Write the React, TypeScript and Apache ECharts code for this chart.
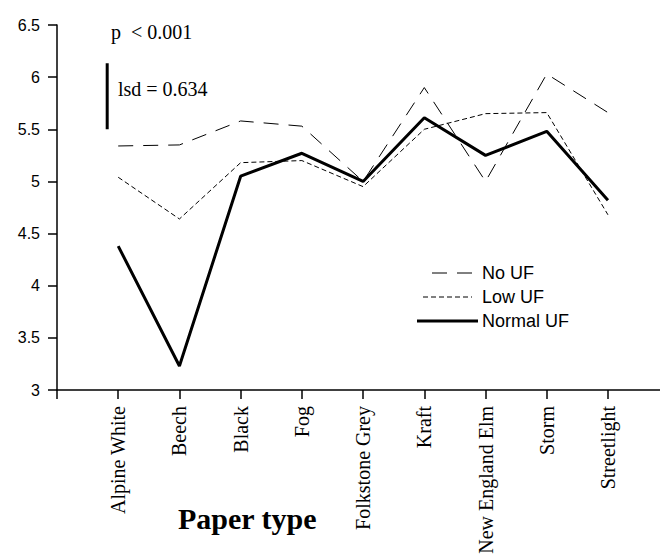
import React, { useEffect, useRef } from "react";
import * as echarts from "echarts";

const categories = [
  "Alpine White",
  "Beech",
  "Black",
  "Fog",
  "Folkstone Grey",
  "Kraft",
  "New England Elm",
  "Storm",
  "Streetlight",
];
const noUF = [5.34, 5.35, 5.58, 5.53, 5.0, 5.9, 5.0, 6.03, 5.66];
const lowUF = [5.04, 4.64, 5.18, 5.2, 4.95, 5.5, 5.65, 5.66, 4.68];
const normalUF = [4.38, 3.23, 5.05, 5.27, 5.0, 5.61, 5.25, 5.48, 4.82];
const seriesNames = ["No UF", "Low UF", "Normal UF"];
const yMin = 3;
const yMax = 6.5;
const yStep = 0.5;
const lsdValue = 0.634;
const lsdBase = 5.5;
const lsdPos = 0.82;
const pText = "p  < 0.001";
const lsdText = "lsd = 0.634";
const xTitle = "Paper type";

const toPoints = (vals: number[]) => vals.map((v, i) => [i + 1, v]);

export default function App() {
  const ref = useRef<HTMLDivElement>(null);
  useEffect(() => {
    if (!ref.current) return;
    const chart = echarts.init(ref.current, null, { renderer: "svg" });
    const serif = "'Liberation Serif', 'Times New Roman', serif";
    const sans = "'Liberation Sans', Arial, sans-serif";
    const dashNo = [15, 10];
    const dashLow = [5, 3];
    const legendRows = [
      { name: seriesNames[0], y: 273, x1: 432, x2: 472, width: 1, dash: dashNo },
      { name: seriesNames[1], y: 297, x1: 423, x2: 472, width: 1, dash: dashLow },
      { name: seriesNames[2], y: 321, x1: 417, x2: 478, width: 3, dash: null },
    ];
    const legendGraphics: any[] = [];
    legendRows.forEach((r) => {
      legendGraphics.push({
        type: "line",
        shape: { x1: r.x1, y1: r.y, x2: r.x2, y2: r.y },
        style: { stroke: "#000", lineWidth: r.width, lineDash: r.dash || undefined },
      });
      legendGraphics.push({
        type: "text",
        x: 482,
        y: r.y,
        style: {
          text: r.name,
          font: `18px ${sans}`,
          fill: "#000",
          verticalAlign: "middle",
          align: "left",
        },
      });
    });
    chart.setOption({
      animation: false,
      backgroundColor: "#ffffff",
      grid: { left: 57, top: 25, right: 0, bottom: 169, containLabel: false },
      xAxis: {
        type: "value",
        min: 0,
        max: 9.85,
        interval: 1,
        splitLine: { show: false },
        axisLine: { show: true, lineStyle: { color: "#000", width: 1.5 } },
        axisTick: { show: true, length: 9, lineStyle: { color: "#000", width: 1.5 } },
        axisLabel: {
          rotate: 90,
          margin: 16,
          fontFamily: serif,
          fontSize: 20,
          color: "#000",
          showMaxLabel: false,
          formatter: (v: number) => {
            const i = Math.round(v) - 1;
            return i >= 0 && i < categories.length ? categories[i] : "";
          },
        },
      },
      yAxis: {
        type: "value",
        min: yMin,
        max: yMax,
        interval: yStep,
        splitLine: { show: false },
        axisLine: { show: true, lineStyle: { color: "#000", width: 1.5 } },
        axisTick: { show: true, length: 9, lineStyle: { color: "#000", width: 1.5 } },
        axisLabel: { margin: 17, fontFamily: sans, fontSize: 16, color: "#000" },
      },
      graphic: [
        { type: "text", left: 111, top: 22, style: { text: pText, font: `20px ${serif}`, fill: "#000" } },
        { type: "text", left: 118, top: 79, style: { text: lsdText, font: `20px ${serif}`, fill: "#000" } },
        { type: "text", left: 178, top: 503, style: { text: xTitle, font: `bold 30px ${serif}`, fill: "#000" } },
        ...legendGraphics,
      ],
      series: [
        {
          name: seriesNames[0],
          type: "line",
          data: toPoints(noUF),
          symbol: "none",
          lineStyle: { color: "#000", width: 1, type: dashNo },
        },
        {
          name: seriesNames[1],
          type: "line",
          data: toPoints(lowUF),
          symbol: "none",
          lineStyle: { color: "#000", width: 1, type: dashLow },
        },
        {
          name: seriesNames[2],
          type: "line",
          data: toPoints(normalUF),
          symbol: "none",
          lineStyle: { color: "#000", width: 3 },
        },
        {
          name: "lsd",
          type: "line",
          data: [
            [lsdPos, lsdBase],
            [lsdPos, lsdBase + lsdValue],
          ],
          symbol: "none",
          silent: true,
          lineStyle: { color: "#000", width: 3 },
        },
      ],
    });
    return () => chart.dispose();
  }, []);
  return (
    <div
      ref={ref}
      style={{ position: "absolute", left: 0, top: 0, width: 660, height: 559, background: "#fff" }}
    />
  );
}
